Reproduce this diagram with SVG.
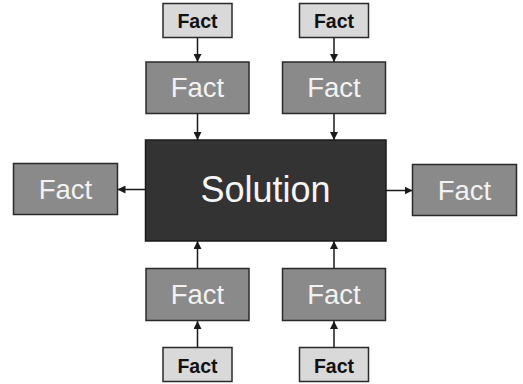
<svg xmlns="http://www.w3.org/2000/svg" width="523" height="384" viewBox="0 0 523 384">
<style>
.small{fill:#d9d9d9;stroke:#2a2a2a;stroke-width:1.5}
.mid{fill:#8a8a8a;stroke:#2a2a2a;stroke-width:1.5}
.sol{fill:#333333;stroke:#1a1a1a;stroke-width:1.5}
.ts{font-family:"Liberation Sans",Arial,sans-serif;font-weight:bold;font-size:19.5px;fill:#111;text-anchor:middle}
.tm{font-family:"Liberation Sans",Arial,sans-serif;font-size:27.5px;fill:#f2f2f2;text-anchor:middle}
.tl{font-family:"Liberation Sans",Arial,sans-serif;font-size:36px;fill:#f5f5f5;text-anchor:middle}
.c{stroke:#1a1a1a;stroke-width:1.5;fill:none;marker-end:url(#ah)}
</style>
<defs>
<marker id="ah" viewBox="0 0 10 10" refX="10" refY="5" markerWidth="8" markerHeight="8" markerUnits="userSpaceOnUse" orient="auto">
<path d="M0,0 L10,5 L0,10 z" fill="#1a1a1a"/>
</marker>
</defs>
<rect width="523" height="384" fill="#ffffff"/>
<g id="connectors">
<line class="c" x1="197.5" y1="37.5" x2="197.5" y2="62"/>
<line class="c" x1="334" y1="37.5" x2="334" y2="62"/>
<line class="c" x1="197.5" y1="113.5" x2="197.5" y2="140"/>
<line class="c" x1="334" y1="113.5" x2="334" y2="140"/>
<line class="c" x1="145" y1="189.5" x2="117.5" y2="189.5"/>
<line class="c" x1="386" y1="190.5" x2="412.5" y2="190.5"/>
<line class="c" x1="197.5" y1="268" x2="197.5" y2="241"/>
<line class="c" x1="334" y1="268" x2="334" y2="241"/>
<line class="c" x1="197.5" y1="347" x2="197.5" y2="321"/>
<line class="c" x1="334" y1="347" x2="334" y2="321"/>
</g>
<g id="fact-top-left-small"><rect class="small" x="163" y="3.5" width="69" height="34"/><text class="ts" x="197.5" y="27.5">Fact</text></g>
<g id="fact-top-right-small"><rect class="small" x="299.5" y="3.5" width="69" height="34"/><text class="ts" x="334" y="27.5">Fact</text></g>
<g id="fact-top-left"><rect class="mid" x="146" y="62" width="103" height="51.5"/><text class="tm" x="197.5" y="97">Fact</text></g>
<g id="fact-top-right"><rect class="mid" x="282.5" y="62" width="103" height="51.5"/><text class="tm" x="334" y="97">Fact</text></g>
<g id="solution"><rect class="sol" x="145.5" y="140" width="240.5" height="101"/><text class="tl" x="265.5" y="201.5">Solution</text></g>
<g id="fact-left"><rect class="mid" x="13.5" y="163.5" width="104" height="51"/><text class="tm" x="65.5" y="198.5">Fact</text></g>
<g id="fact-right"><rect class="mid" x="412.5" y="164.5" width="104" height="51"/><text class="tm" x="464.5" y="199.5">Fact</text></g>
<g id="fact-bottom-left"><rect class="mid" x="146" y="268.5" width="103" height="52"/><text class="tm" x="197.5" y="303.5">Fact</text></g>
<g id="fact-bottom-right"><rect class="mid" x="282.5" y="268.5" width="103" height="52"/><text class="tm" x="334" y="303.5">Fact</text></g>
<g id="fact-bottom-left-small"><rect class="small" x="163" y="347.5" width="69" height="34"/><text class="ts" x="197.5" y="372.5">Fact</text></g>
<g id="fact-bottom-right-small"><rect class="small" x="299.5" y="347.5" width="69" height="34"/><text class="ts" x="334" y="372.5">Fact</text></g>
</svg>
